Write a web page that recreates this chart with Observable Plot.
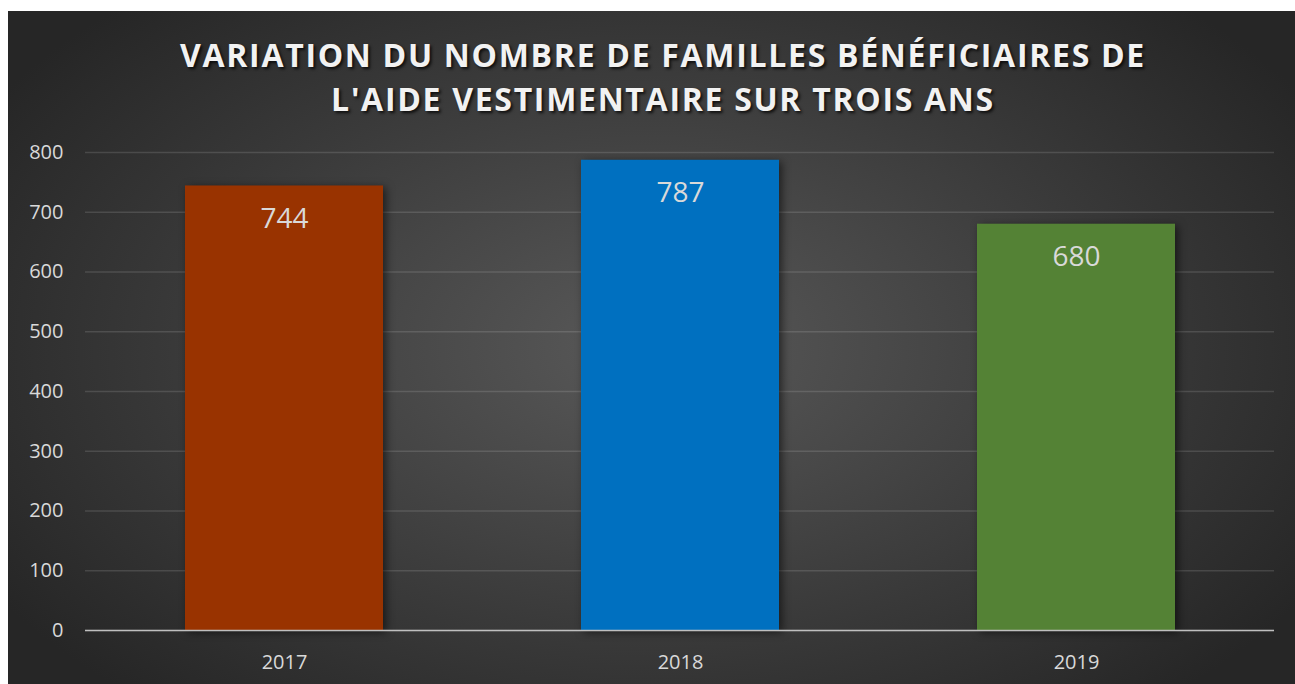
<!DOCTYPE html>
<html>
<head>
<meta charset="utf-8">
<script src="https://cdn.jsdelivr.net/npm/d3@7"></script>
<script src="https://cdn.jsdelivr.net/npm/@observablehq/plot@0.6"></script>
<style>
  html, body { margin: 0; padding: 0; background: #ffffff; }
  #chart {
    position: absolute; left: 8px; top: 11px; width: 1287px; height: 673px;
    background: radial-gradient(ellipse 60% 70% at 50% 50%, #595959 0%, #3a3a3a 60%, #262626 100%);
    overflow: hidden;
  }
  #title {
    position: absolute; top: 22px; left: 23px; width: 1264px; text-align: center;
    font-family: "Open Sans", sans-serif; font-weight: 700; font-size: 32px; line-height: 44px;
    letter-spacing: 1.7px; color: #F2F2F2;
    text-shadow: 2px 2px 3px rgba(0,0,0,0.75);
  }
  #plot { position: absolute; left: 0; top: 119px; }
  #plot g[aria-label="bar"] rect { filter: drop-shadow(3px 2px 4px rgba(0,0,0,0.55)); }
</style>
</head>
<body>
<div id="chart">
  <div id="title">VARIATION DU NOMBRE DE FAMILLES BÉNÉFICIAIRES DE<br>L'AIDE VESTIMENTAIRE SUR TROIS ANS</div>
  <div id="plot"></div>
</div>
<script>
const years = ["2017", "2018", "2019"];
const values = [744, 787, 680];
const barColors = ["#993300", "#0070C0", "#548235"];
const yTicks = [0, 100, 200, 300, 400, 500, 600, 700, 800];

const data = years.map((y, i) => ({year: y, value: values[i], color: barColors[i]}));

const chart = Plot.plot({
  width: 1287,
  height: 554,
  marginTop: 22,
  marginBottom: 54,
  marginLeft: 77,
  marginRight: 21,
  style: {fontFamily: "Open Sans, sans-serif", fontSize: "20px", color: "#D9D9D9", background: "transparent", overflow: "visible"},
  x: {domain: years, paddingInner: 0.5, paddingOuter: 0.25, label: null},
  y: {domain: [0, 800], label: null},
  marks: [
    Plot.gridY(yTicks, {stroke: "#ffffff", strokeOpacity: 0.13, strokeWidth: 1.3}),
    Plot.barY(data, {x: "year", y: "value", fill: "color"}),
    Plot.ruleY([0], {stroke: "#bfbfbf", strokeWidth: 1.6}),
    Plot.text(data, {x: "year", y: "value", text: d => String(d.value), dy: 33, fill: "#D9D9D9", fontSize: 28, lineAnchor: "middle"}),
    Plot.axisY(yTicks, {tickSize: 0, tickPadding: 22, fill: "#D9D9D9", fontSize: 20, label: null}),
    Plot.axisX({tickSize: 0, tickPadding: 24, fill: "#D9D9D9", fontSize: 20, label: null})
  ]
});
document.getElementById("plot").appendChild(chart);
</script>
</body>
</html>
